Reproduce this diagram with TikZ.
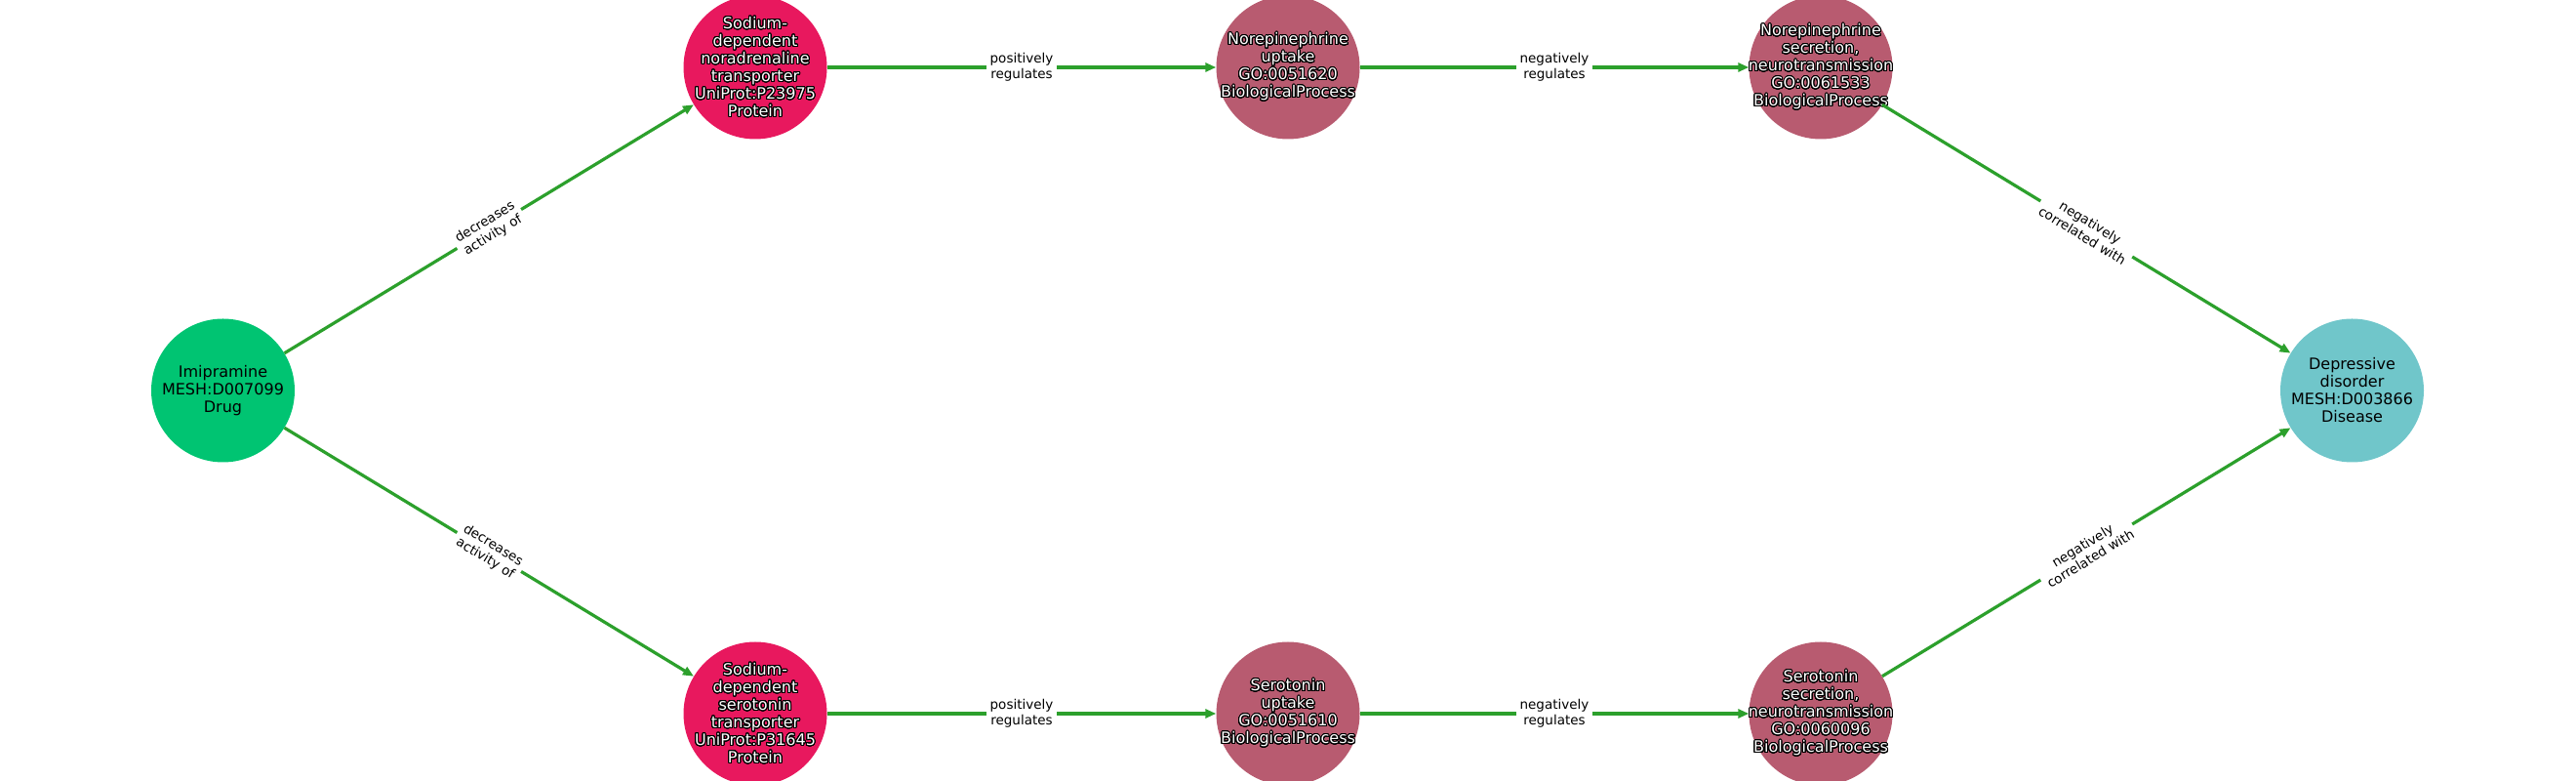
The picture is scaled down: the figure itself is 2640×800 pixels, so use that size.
\documentclass[tikz,border=0pt]{standalone}
\usepackage{fontspec}
\setmainfont{DejaVu Sans}
\usepackage{contour}
\contourlength{1pt}
\contournumber{32}
\usetikzlibrary{arrows.meta}
\definecolor{drugcol}{RGB}{0,196,114}
\definecolor{protcol}{RGB}{232,24,94}
\definecolor{proccol}{RGB}{184,91,112}
\definecolor{discol}{RGB}{112,198,202}
\definecolor{edgecol}{RGB}{44,160,44}
\newcommand{\ol}[1]{\contour{black}{#1}}

\begin{document}
\begin{tikzpicture}[x=1pt, y=1pt,
	every node/.style={font=\fontsize{16}{18}\selectfont, align=center},
	ball/.style={circle, minimum size=147pt, inner sep=0pt},
	drugnode/.style={ball, fill=drugcol},
	protnode/.style={ball, fill=protcol},
	procnode/.style={ball, fill=proccol},
	disnode/.style={ball, fill=discol},
	wtxt/.style={text=white, inner sep=0pt},
	rel/.style={draw=edgecol, line width=3.2pt, -{Triangle[length=11pt, width=9pt]}},
	lbl/.style={fill=white, inner sep=4pt, sloped, midway, font=\fontsize{13.5}{15.7}\selectfont}]
	\useasboundingbox (0,0) rectangle (2640,800);
	% nodes
	\node[drugnode] (drug) at (228.5,400) {Imipramine\\MESH:D007099\\Drug};
	\node[protnode] (nettrans) at (774,731) {};
	\node[wtxt] (nettrans-l) at (nettrans) {\ol{Sodium-}\\\ol{dependent}\\\ol{noradrenaline}\\\ol{transporter}\\\ol{UniProt:P23975}\\\ol{Protein}};
	\node[procnode] (neup) at (1320,731) {};
	\node[wtxt] (neup-l) at (neup) {\ol{Norepinephrine}\\\ol{uptake}\\\ol{GO:0051620}\\\ol{BiologicalProcess}};
	\node[procnode] (nesec) at (1866,731) {};
	\node[wtxt] (nesec-l) at (nesec) {\ol{Norepinephrine}\\\ol{secretion,}\\\ol{neurotransmission}\\\ol{GO:0061533}\\\ol{BiologicalProcess}};
	\node[protnode] (settrans) at (774,69) {};
	\node[wtxt] (settrans-l) at (settrans) {\ol{Sodium-}\\\ol{dependent}\\\ol{serotonin}\\\ol{transporter}\\\ol{UniProt:P31645}\\\ol{Protein}};
	\node[procnode] (setup) at (1320,69) {};
	\node[wtxt] (setup-l) at (setup) {\ol{Serotonin}\\\ol{uptake}\\\ol{GO:0051610}\\\ol{BiologicalProcess}};
	\node[procnode] (setsec) at (1866,69) {};
	\node[wtxt] (setsec-l) at (setsec) {\ol{Serotonin}\\\ol{secretion,}\\\ol{neurotransmission}\\\ol{GO:0060096}\\\ol{BiologicalProcess}};
	\node[disnode] (dis) at (2410.5,400) {Depressive\\disorder\\MESH:D003866\\Disease};
	% edges
	\draw[rel] (drug) -- node[lbl] {decreases\\activity of} (nettrans);
	\draw[rel] (drug) -- node[lbl] {decreases\\activity of} (settrans);
	\draw[rel] (nettrans) -- node[lbl] {positively\\regulates} (neup);
	\draw[rel] (settrans) -- node[lbl] {positively\\regulates} (setup);
	\draw[rel] (neup) -- node[lbl] {negatively\\regulates} (nesec);
	\draw[rel] (setup) -- node[lbl] {negatively\\regulates} (setsec);
	\draw[rel] (nesec) -- node[lbl] {negatively\\correlated with} (dis);
	\draw[rel] (setsec) -- node[lbl] {negatively\\correlated with} (dis);
\end{tikzpicture}
\end{document}
